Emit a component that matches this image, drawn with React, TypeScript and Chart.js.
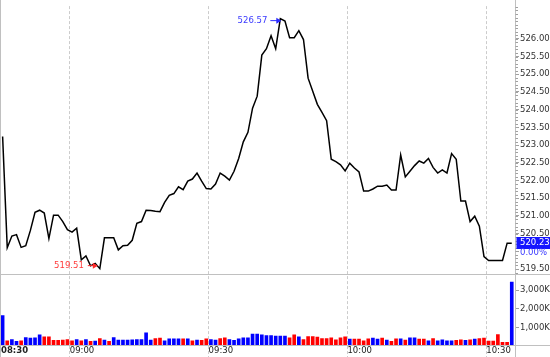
import React, { useEffect, useRef } from 'react';
import { Chart, registerables } from 'chart.js';

Chart.register(...registerables);

const FONT = 'DejaVu Sans';

// session labels
const sessionLabel = '08:30';
const firstBarTime = '08:45';
const timeLabels = ['09:00', '09:30', '10:00', '10:30'];

// 1-minute closing prices (first bar = 08:45)
const prices = [
  523.24, 520.10, 520.43, 520.47, 520.11, 520.16, 520.59, 521.10, 521.16, 521.08,
  520.36, 521.02, 521.02, 520.84, 520.61, 520.54, 520.65, 519.76, 519.87, 519.59,
  519.66, 519.51, 520.38, 520.38, 520.38, 520.04, 520.16, 520.17, 520.31, 520.79,
  520.84, 521.16, 521.15, 521.13, 521.12, 521.38, 521.58, 521.63, 521.82, 521.74,
  521.98, 522.04, 522.21, 521.98, 521.77, 521.76, 521.90, 522.21, 522.12, 522.01,
  522.26, 522.62, 523.09, 523.36, 524.04, 524.38, 525.54, 525.72, 526.09, 525.72,
  526.57, 526.50, 526.03, 526.03, 526.23, 525.98, 524.89, 524.52, 524.15, 523.92,
  523.69, 522.60, 522.53, 522.44, 522.27, 522.49, 522.35, 522.24, 521.70, 521.70,
  521.76, 521.84, 521.84, 521.87, 521.73, 521.73, 522.72, 522.10, 522.26, 522.42,
  522.55, 522.49, 522.62, 522.37, 522.21, 522.30, 522.21, 522.76, 522.60, 521.42,
  521.42, 520.84, 520.99, 520.71, 519.85, 519.74, 519.74, 519.74, 519.74, 520.23,
  520.23,
];

// volume per minute, in thousands
const volumes = [
  1630, 280, 350, 245, 280, 456, 420, 438, 596, 490,
  490, 298, 298, 315, 350, 280, 350, 280, 350, 245,
  263, 403, 315, 245, 456, 315, 315, 315, 333, 350,
  350, 702, 315, 403, 420, 280, 385, 385, 385, 385,
  385, 280, 315, 298, 385, 350, 315, 403, 438, 350,
  298, 385, 438, 438, 632, 632, 596, 561, 561, 525,
  525, 525, 438, 596, 490, 350, 508, 508, 473, 403,
  403, 438, 333, 438, 490, 368, 368, 368, 280, 385,
  420, 368, 420, 315, 245, 385, 385, 315, 438, 438,
  368, 368, 280, 403, 280, 333, 280, 280, 298, 333,
  298, 333, 368, 403, 420, 263, 263, 614, 193, 193,
  3421,
];

// bar direction: u = up (blue), d = down (red)
const volumeDirection = [
  'u','d','u','u','d','u','u','u','u','d',
  'd','d','d','d','d','d','u','d','u','d',
  'u','d','u','d','u','u','u','u','u','u',
  'u','u','u','d','d','u','u','u','u','d',
  'u','d','u','d','d','u','u','d','d','u',
  'u','u','u','u','u','u','u','u','u','u',
  'u','u','d','d','u','d','d','d','d','d',
  'd','d','d','d','d','u','d','d','d','d',
  'u','u','d','u','d','d','u','d','u','u',
  'd','d','u','d','u','u','u','u','d','d',
  'u','d','u','d','d','d','d','d','d','d',
  'u',
];

const priceTicks = [519.5, 520, 520.5, 521, 521.5, 522, 522.5, 523, 523.5, 524, 524.5, 525, 525.5, 526];
const volumeTicks = [1000, 2000, 3000];
const changeText = '0.00%';

const toMin = (t: string) => {
  const [h, m] = t.split(':').map(Number);
  return h * 60 + m;
};
const timeTickValues = timeLabels.map((t) => toMin(t) - toMin(firstBarTime) - 0.5);
const lastPrice = prices[prices.length - 1];

const GRID = '#cccccc';
const FRAME = '#c0c0c0';
const BLUE = '#0000ff';
const RED = '#ff0000';

function drawArrow(ctx: CanvasRenderingContext2D, x1: number, y: number, x2: number, color: string) {
  ctx.strokeStyle = color;
  ctx.fillStyle = color;
  ctx.lineWidth = 1;
  ctx.beginPath();
  ctx.moveTo(x1, y);
  ctx.lineTo(x2 - 3, y);
  ctx.stroke();
  ctx.beginPath();
  ctx.moveTo(x2, y);
  ctx.lineTo(x2 - 5, y - 3);
  ctx.lineTo(x2 - 5, y + 3);
  ctx.closePath();
  ctx.fill();
}

const framePlugin = {
  id: 'framePlugin',
  beforeDraw(chart: any) {
    const { ctx } = chart;
    ctx.save();
    ctx.fillStyle = '#ffffff';
    ctx.fillRect(0, 0, chart.width, chart.height);
    ctx.restore();
  },
  afterDraw(chart: any) {
    const { ctx, chartArea, scales } = chart;
    const x = scales.x;
    const y = scales.y;
    const v = scales.v;
    const line = (x1: number, y1: number, x2: number, y2: number) => {
      ctx.beginPath();
      ctx.moveTo(x1, y1);
      ctx.lineTo(x2, y2);
      ctx.stroke();
    };
    ctx.save();
    ctx.setLineDash([]);
    ctx.lineWidth = 1;
    ctx.strokeStyle = FRAME;
    line(0.5, 0, 0.5, chart.height);
    const sepY = Math.round(v.top) + 0.5;
    line(0, sepY, chart.width, sepY);
    const botY = Math.round(chartArea.bottom) + 0.5;
    line(0, botY, chart.width, botY);
    const rx = Math.round(chartArea.right) + 0.5;
    line(rx, 0, rx, chart.height);

    // minor ticks on the price axis
    ctx.strokeStyle = '#a0a0a0';
    const minor = (priceTicks[1] - priceTicks[0]) / 5;
    for (let k = Math.ceil(y.min / minor); k * minor <= y.max; k++) {
      const py = Math.round(y.getPixelForValue(k * minor)) + 0.5;
      line(rx, py, rx + 2.5, py);
    }

    // high / low annotations
    ctx.font = `8.5px "${FONT}"`;
    ctx.textBaseline = 'middle';
    let iMax = 0;
    let iMin = 0;
    prices.forEach((p, i) => {
      if (p > prices[iMax]) iMax = i;
      if (p < prices[iMin]) iMin = i;
    });
    const hx = x.getPixelForValue(iMax);
    const hy = y.getPixelForValue(prices[iMax]) + 2;
    drawArrow(ctx, hx - 10, hy, hx + 1, '#2a2aff');
    ctx.fillStyle = '#3a3aff';
    ctx.textAlign = 'right';
    ctx.fillText(prices[iMax].toFixed(2), hx - 13, hy);

    const lx = x.getPixelForValue(iMin);
    const ly = y.getPixelForValue(prices[iMin]) - 3;
    drawArrow(ctx, lx - 12, ly, lx - 2, '#ff2a2a');
    ctx.fillStyle = '#ff3a3a';
    ctx.fillText(prices[iMin].toFixed(2), lx - 16, ly);

    // last price box
    const cy = y.getPixelForValue(lastPrice);
    ctx.fillStyle = '#1515ff';
    ctx.fillRect(rx + 1, Math.round(cy) - 6, chart.width - rx, 12);
    ctx.fillStyle = '#ffffff';
    ctx.textAlign = 'left';
    ctx.fillText(lastPrice.toFixed(2), rx + 4.5, cy);
    ctx.fillStyle = '#3a3aff';
    ctx.fillText(changeText, rx + 4.5, cy + 10);
    ctx.restore();
  },
};

export default function App() {
  const ref = useRef<HTMLCanvasElement | null>(null);

  useEffect(() => {
    document.body.style.margin = '0';
    const canvas = ref.current;
    if (!canvas) return;
    const chart = new Chart(canvas, {
      type: 'line',
      data: {
        datasets: [
          {
            type: 'line',
            data: prices.map((p, i) => ({ x: i, y: p })),
            yAxisID: 'y',
            borderColor: '#000000',
            borderWidth: 1.5,
            pointRadius: 0,
            tension: 0,
            fill: false,
          } as any,
          {
            type: 'bar',
            data: volumes.map((vol, i) => ({ x: i, y: vol })),
            yAxisID: 'v',
            backgroundColor: volumeDirection.map((d) => (d === 'u' ? BLUE : RED)),
            borderWidth: 0,
            barThickness: 3,
          } as any,
        ],
      },
      options: {
        animation: false,
        responsive: false,
        maintainAspectRatio: false,
        devicePixelRatio: 1,
        layout: { padding: { left: 1, right: 0, top: 0, bottom: 0 } },
        plugins: { legend: { display: false }, tooltip: { enabled: false } },
        scales: {
          x: {
            type: 'linear',
            position: 'bottom',
            min: -0.35,
            max: 110.7,
            offset: false,
            afterBuildTicks: (s: any) => {
              s.ticks = [{ value: s.min }, ...timeTickValues.map((val) => ({ value: val }))];
            },
            afterFit: (s: any) => {
              s.height = 12;
            },
            grid: {
              offset: false,
              color: (c: any) => (c.index === 0 ? 'rgba(0,0,0,0)' : GRID),
              tickColor: (c: any) => (c.index === 0 ? 'rgba(0,0,0,0)' : GRID),
              lineWidth: 1,
              tickLength: 12,
              tickBorderDash: [3, 2],
            },
            border: { display: true, color: FRAME, dash: [3, 2] },
            ticks: {
              autoSkip: false,
              maxRotation: 0,
              align: 'start',
              padding: -11,
              color: '#222222',
              font: (c: any) => ({ family: FONT, size: 8.5, weight: c.index === 0 ? 'bold' : 'normal' }),
              callback: (_val: any, idx: number) => (idx === 0 ? sessionLabel : timeLabels[idx - 1]),
            },
          } as any,
          y: {
            type: 'linear',
            position: 'right',
            stack: 'panels',
            stackWeight: 272.5,
            min: 519.365,
            max: 526.924,
            afterBuildTicks: (s: any) => {
              s.ticks = priceTicks.map((val) => ({ value: val }));
            },
            afterFit: (s: any) => {
              s.width = 35;
            },
            grid: { drawOnChartArea: false, tickLength: 4, tickColor: '#a0a0a0' },
            border: { display: true, color: FRAME },
            ticks: {
              autoSkip: false,
              padding: 1,
              color: '#333333',
              font: { family: FONT, size: 8.5 },
              // labels hidden under the last-price box / change text
              callback: (val: any) => {
                const n = Number(val);
                return n < lastPrice && lastPrice - n < 0.45 ? '' : n.toFixed(2);
              },
            },
          } as any,
          v: {
            type: 'linear',
            position: 'right',
            stack: 'panels',
            stackWeight: 72.5,
            min: 53,
            max: 3869,
            beginAtZero: false,
            afterBuildTicks: (s: any) => {
              s.ticks = volumeTicks.map((val) => ({ value: val }));
            },
            afterFit: (s: any) => {
              s.width = 35;
            },
            grid: { drawOnChartArea: false, tickLength: 4, tickColor: '#a0a0a0' },
            border: { display: true, color: FRAME },
            ticks: {
              autoSkip: false,
              padding: 1,
              color: '#333333',
              font: { family: FONT, size: 8.5 },
              callback: (val: any) => `${Number(val).toLocaleString('en-US')}K`,
            },
          } as any,
        },
      },
      plugins: [framePlugin],
    });
    return () => chart.destroy();
  }, []);

  return (
    <div style={{ position: 'absolute', left: 0, top: 0, width: 550, height: 357 }}>
      <canvas ref={ref} width={550} height={357} style={{ display: 'block', width: 550, height: 357 }} />
    </div>
  );
}
